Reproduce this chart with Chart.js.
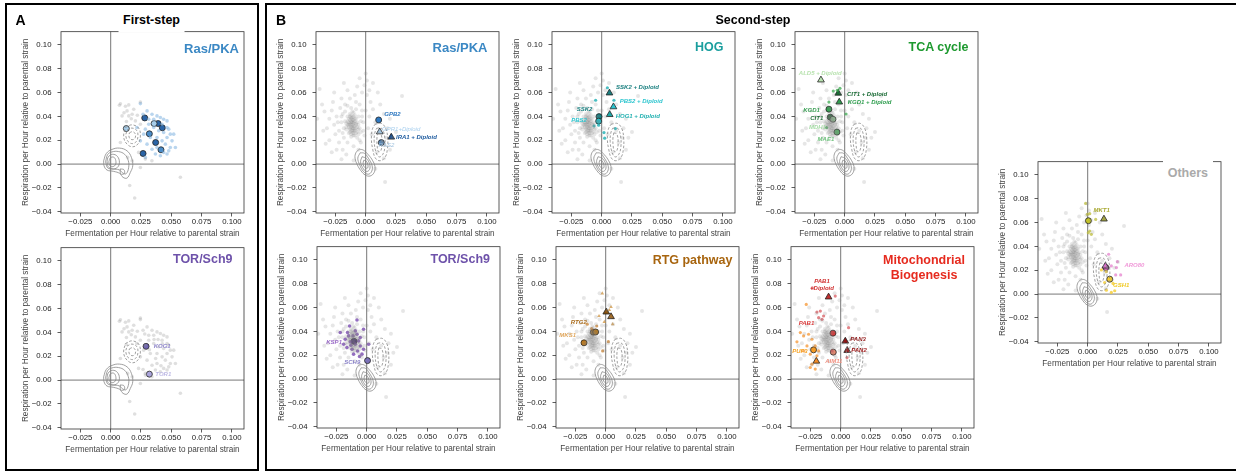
<!DOCTYPE html>
<html><head><meta charset="utf-8">
<script src="https://cdn.jsdelivr.net/npm/chart.js@4.4.1/dist/chart.umd.min.js"></script>
<style>
body{margin:0;background:#fff;width:1236px;height:473px;overflow:hidden;position:relative;font-family:"Liberation Sans",Arial,Helvetica,sans-serif}
canvas{position:absolute}
.t{position:absolute;white-space:nowrap;font-weight:bold;line-height:1}
.box{position:absolute;border:2.5px solid #000;box-sizing:border-box}
</style></head><body>
<div class="box" style="left:5px;top:3px;width:254px;height:468px"></div>
<div class="box" style="left:265px;top:3px;width:1000px;height:468px"></div>
<script>
// ---------- axes ----------
const X_MIN=-0.041, X_MAX=0.11, Y_MIN=-0.041, Y_MAX=0.111;
const xTicks=[-0.025,0,0.025,0.05,0.075,0.1];
const xTickLabels=['\u22120.025','0.000','0.025','0.050','0.075','0.100'];
const yTicks=[-0.04,-0.02,0,0.02,0.04,0.06,0.08,0.1];
const yTickLabels=['\u22120.04','\u22120.02','0.00','0.02','0.04','0.06','0.08','0.10'];
const xTitle='Fermentation per Hour relative to parental strain';
const yTitle='Respiration per Hour relative to parental strain';

// ---------- first-step data ----------
const firstStepOther=[[0.0072,0.0493],[0.0122,0.0485],[0.0149,0.0496],[0.0135,0.0446],[0.019,0.046],[0.0094,0.0404],[0.0149,0.0404],[0.0177,0.0418],[0.013,0.0357],[0.0204,0.0362],[0.0245,0.0334],[0.014,0.0056],[0.0177,0.0028],[0.0157,-0.018],[0.0198,-0.0284],[0.0575,-0.011],[0.0245,-0.0028],[0.034,0.0028],[0.008,0.0181],[0.023,0.0098],[0.0286,0.0042],[0.022,0.041],[0.017,0.038],[0.011,0.043],[0.0245,0.052],[0.008,0.0506]];
const rasOneSmall=[[0.0245,0.0507],[0.030,0.0446],[0.0341,0.0418],[0.0382,0.0404],[0.041,0.039],[0.0437,0.0376],[0.0465,0.0362],[0.0314,0.0376],[0.0355,0.0307],[0.0396,0.0279],[0.0437,0.0265],[0.0479,0.0293],[0.0492,0.0251],[0.0465,0.0223],[0.0424,0.0195],[0.0382,0.0139],[0.0341,0.0125],[0.030,0.0167],[0.0272,0.0251],[0.0245,0.0195],[0.0437,0.0098],[0.0465,0.0084],[0.041,0.007],[0.0369,0.0084],[0.0492,0.0139],[0.0506,0.0195],[0.0465,0.0307],[0.0424,0.0334],[0.0327,0.0223],[0.0382,0.0223],[0.0314,0.0334],[0.0267,0.0418],[0.0479,0.0111],[0.0451,0.0167],[0.052,0.0251],[0.0534,0.0139],[0.0286,0.0293],[0.0355,0.0376],[0.0286,0.0056],[0.0217,0.0307]];
const rasOneGenes=['','','','','','','','',''];
const rasOneFerm=[0.0281,0.0391,0.0358,0.0426,0.0129,0.0319,0.0371,0.0415,0.0267];
const rasOneResp=[0.0387,0.034,0.034,0.0304,0.0298,0.0254,0.0181,0.012,0.0089];
const torOneGenes=['KOG1','TOR1'];
const torOneFerm=[0.0292,0.0319];
const torOneResp=[0.0283,0.005];

// ---------- second-step data ----------
const stepTwoCloud=[[-0.012,0.035],[-0.010,0.032],[-0.013,0.030],[-0.009,0.036],[-0.011,0.028],[-0.014,0.038],[-0.008,0.030],[-0.010,0.040],[-0.012,0.025],[-0.015,0.033],[-0.007,0.027],[-0.011,0.037],[-0.013,0.042],[-0.009,0.024],[-0.006,0.033],[-0.016,0.029],[-0.010,0.034],[-0.012,0.031],[-0.008,0.038],[-0.014,0.035],[-0.009,0.028],[-0.011,0.044],[-0.007,0.022],[-0.013,0.027],[-0.005,0.030],[-0.017,0.036],[-0.010,0.026],[-0.012,0.039],[-0.006,0.025],[-0.015,0.040],[-0.008,0.034],[-0.011,0.030],[-0.013,0.033],[-0.009,0.041],[-0.004,0.027],[-0.016,0.031],[-0.010,0.037],[-0.007,0.031],[-0.012,0.023],[-0.014,0.026],
[-0.011,0.033],[-0.012,0.036],[-0.010,0.030],[-0.013,0.034],[-0.009,0.032],[-0.011,0.039],[-0.012,0.028],[-0.010,0.035],[-0.014,0.031],[-0.008,0.033],[-0.013,0.037],[-0.011,0.026],[-0.009,0.029],[-0.012,0.041],[-0.010,0.043],[-0.015,0.036],[-0.007,0.035],[-0.011,0.031],[-0.013,0.029],[-0.009,0.038],[-0.012,0.033],[-0.010,0.028],[-0.014,0.033],[-0.008,0.026],[-0.011,0.035],[-0.006,0.029],[-0.016,0.034],[-0.012,0.038],[-0.010,0.024],[-0.013,0.040],
[-0.020,0.035],[-0.022,0.028],[-0.019,0.042],[-0.024,0.040],[-0.018,0.022],[-0.021,0.047],[-0.026,0.033],[-0.017,0.050],[-0.015,0.018],[-0.025,0.025],[-0.003,0.040],[-0.002,0.035],[0.000,0.045],[-0.005,0.050],[-0.008,0.052],[0.002,0.030],[-0.001,0.024],[-0.004,0.018],[-0.010,0.015],[-0.013,0.055],[-0.028,0.045],[-0.030,0.038],[-0.022,0.018],[-0.019,0.012],[-0.006,0.012],[0.003,0.040],[0.004,0.052],[0.001,0.058],[-0.003,0.060],[-0.009,0.058],[-0.015,0.062],[-0.020,0.055],[-0.027,0.052],[-0.032,0.030],[-0.030,0.020],[-0.024,0.012],[-0.016,0.008],[0.006,0.046],[0.008,0.035],[0.005,0.025],[-0.001,0.066],[0.003,0.062],[-0.007,0.065],[-0.034,0.044],[-0.012,0.047],
[-0.018,0.030],[-0.020,0.040],[-0.017,0.044],[-0.004,0.036],[-0.003,0.045],[-0.006,0.040],[-0.019,0.026],[-0.023,0.035],[-0.008,0.046],[-0.015,0.049],[-0.005,0.020],[-0.002,0.028],
[-0.038,0.063],[-0.036,0.050],[-0.035,0.028],[-0.033,0.017],[-0.028,0.010],[-0.020,0.004],[-0.010,0.003],[0.000,0.076],[0.001,0.070],[-0.005,0.072],[0.010,0.060],[0.012,0.050],[0.015,0.042],[0.018,0.030],[0.022,0.022],[0.025,0.027],[0.030,0.057],[0.020,0.012],[0.015,0.005],[0.008,-0.004],[0.016,-0.015],[-0.026,0.060],[-0.018,0.068],[0.006,0.068],[0.014,0.018],[0.020,0.038],[0.009,0.010],[0.012,0.028],[0.017,0.022],[-0.040,0.038]];

const rasTwoGenes=['GPB2','GPR1+Diploid','IRA1 + Diploid','RAS2'];
const rasTwoFerm=[0.0107,0.0116,0.0211,0.0129];
const rasTwoResp=[0.037,0.027,0.0226,0.018];

const hogGenes=['SSK2','PBS2','SSK2 + Diploid','PBS2 + Diploid','HOG1 + Diploid'];
const hogFerm=[-0.0022,-0.0025,0.0064,0.0097,0.0066];
const hogResp=[0.0398,0.036,0.0596,0.048,0.0415];
const hogSmall=[[0.0047,0.064],[0.0101,0.0535],[-0.005,0.0535],[-0.0063,0.032],[0.0025,0.0217],[0.0019,0.0264],[0.0113,0.0298],[-0.0025,0.0326]];

const tcaGenes=['ALD5 + Diploid','CIT1 + Diploid','KGD1 + Diploid','KGD1','CIT1','MDH1','MAE1'];
const tcaFerm=[-0.0196,-0.0053,-0.0045,-0.013,-0.0119,-0.0097,-0.0064];
const tcaResp=[0.0705,0.0594,0.052,0.046,0.0393,0.0376,0.0268];
const tcaSmall=[[-0.013,0.052],[-0.0061,0.0618],[-0.0039,0.0635],[-0.0094,0.0612],[0.0011,0.042],[-0.0149,0.0306]];

const torTwoGenes=['KSP1','SCH9'];
const torTwoFerm=[-0.0105,0.0007];
const torTwoResp=[0.0317,0.0155];
const torTwoSmall=[[-0.008,0.0495],[-0.0141,0.0445],[-0.0218,0.039],[-0.0158,0.039],[-0.0113,0.0362],[-0.008,0.0376],[-0.0053,0.0348],[-0.0177,0.0334],[-0.0135,0.0312],[-0.0094,0.0292],[-0.0053,0.0278],[-0.0163,0.0264],[-0.0121,0.025],[-0.0075,0.0236],[-0.0039,0.0209],[-0.0108,0.0209],[-0.0059,0.0189],[0.0016,0.0292],[-0.0026,0.0418],[-0.0149,0.0362],[-0.019,0.0292],[-0.0067,0.032],[-0.0094,0.0404],[-0.013,0.0284],[-0.0026,0.025]];

const rtgGenes=['','','RTG2','','MKS1'];
const rtgFerm=[0.0005,0.0044,-0.0102,-0.0083,-0.0179];
const rtgResp=[0.0562,0.0523,0.0393,0.0395,0.0304];
const rtgSmallTri=[[-0.0028,0.0718],[-0.0055,0.0529],[-0.0011,0.0479],[0.0058,0.046],[0.0044,0.0604],[0.003,0.0579]];
const rtgSmall=[[-0.0116,0.0423],[-0.0074,0.0445],[-0.0152,0.046],[0.0022,0.0314],[-0.0025,0.0236]];

const mitoGenes=['PUF3','','AIM11','PAB1','PAB1\n+Diploid','PAN3','PAN2'];
const mitoFerm=[-0.0224,-0.0201,-0.0061,-0.0064,-0.01,0.0038,0.0054];
const mitoResp=[0.0245,0.015,0.0226,0.0385,0.0688,0.0318,0.024];
const mitoRedSmall=[[-0.0196,0.0562],[-0.0168,0.057],[-0.0182,0.0515],[-0.0154,0.0501],[-0.0141,0.0529],[-0.0234,0.0765],[0.0065,0.0431],[-0.0072,0.0236],[0.0052,0.018],[-0.0045,0.0696]];
const mitoOrangeSmall=[[-0.0284,0.0626],[-0.0333,0.039],[-0.0306,0.0362],[-0.0361,0.0312],[-0.0265,0.0376],[-0.0237,0.0334],[-0.021,0.0278],[-0.0278,0.0278],[-0.0251,0.0209],[-0.0196,0.0195],[-0.0237,0.0125],[-0.0251,0.0097],[-0.021,0.0084],[-0.0182,0.0236],[-0.0306,0.0236]];

const otherGenes=['','MKT1','','ARO80','GSH1'];
const otherFerm=[0.0006,0.0134,0.015,0.0146,0.0182];
const otherResp=[0.0615,0.0629,0.0222,0.0235,0.0125];
const otherOliveSmall=[[-0.0017,0.076],[-0.0003,0.0668],[0.0017,0.0674],[0.0017,0.0529],[0.003,0.0501],[0.0066,0.0626],[0.0005,0.0515]];
const otherYellowSmall=[[0.0113,0.0203],[0.0154,0.0189],[0.014,0.0097],[0.0154,0.0033],[0.0195,0.0014],[0.0223,0.0028],[0.0209,0.0089]];
const otherPinkSmall=[[0.0173,0.0334],[0.0245,0.0272],[0.0237,0.0222],[0.0272,0.0161],[0.0231,0.0161],[0.0195,0.0236]];

// ---------- density contours ----------
const firstSolid=[
 [[-0.0058,0.0028],[-0.0036,0.0089],[0.0011,0.0123],[0.0074,0.0134],[0.0135,0.0111],[0.0171,0.0056],[0.0182,-0.0014],[0.0162,-0.0070],[0.0135,-0.0117],[0.0102,-0.0111],[0.0074,-0.0078],[0.0025,-0.0061],[-0.0030,-0.0050],[-0.0055,-0.0014]],
 [[-0.0042,0.0020],[-0.0025,0.0080],[0.0010,0.0102],[0.0065,0.0105],[0.0115,0.0082],[0.0145,0.0030],[0.0148,-0.0030],[0.0128,-0.0080],[0.0100,-0.0075],[0.0070,-0.0048],[0.0020,-0.0042],[-0.0025,-0.0032]],
 [[-0.0030,0.0020],[-0.0020,0.0060],[0.0015,0.0082],[0.0055,0.0065],[0.0072,0.0015],[0.0055,-0.0028],[0.0012,-0.0040],[-0.0020,-0.0022]],
 [[-0.0015,0.0020],[-0.0003,0.0052],[0.0025,0.0058],[0.0042,0.0030],[0.0038,-0.0008],[0.0010,-0.0022],[-0.0010,-0.0008]],
 [[0.0080,-0.0040],[0.0110,-0.0048],[0.0112,-0.0080],[0.0082,-0.0082]]];
const firstDashed=[
 [[0.0121,0.0306],[0.0176,0.0329],[0.0231,0.0301],[0.0245,0.0237],[0.0228,0.0173],[0.0184,0.0145],[0.0135,0.0167],[0.0107,0.0228]],
 [[0.0135,0.0285],[0.0175,0.0302],[0.0215,0.0282],[0.0225,0.0235],[0.0212,0.0190],[0.0180,0.0172],[0.0145,0.0188],[0.0125,0.0235]],
 [[0.0155,0.0262],[0.0180,0.0272],[0.0202,0.0255],[0.0203,0.0222],[0.0185,0.0205],[0.0160,0.0212],[0.0150,0.0238]]];
const secondSolid=[
 [[-0.0052,0.0125],[-0.0080,0.0097],[-0.0088,0.0050],[-0.0069,-0.0006],[-0.0039,-0.0056],[-0.0003,-0.0092],[0.0036,-0.0100],[0.0069,-0.0072],[0.0077,-0.0022],[0.0058,0.0028],[0.0022,0.0078],[-0.0019,0.0117]],
 [[-0.0045,0.0095],[-0.0065,0.0050],[-0.0050,-0.0005],[-0.0020,-0.0060],[0.0020,-0.0085],[0.0050,-0.0060],[0.0052,-0.0010],[0.0022,0.0050],[-0.0010,0.0090]],
 [[-0.0030,0.0062],[-0.0042,0.0020],[-0.0025,-0.0030],[0.0005,-0.0062],[0.0032,-0.0045],[0.0032,0.0002],[0.0006,0.0047]],
 [[-0.0016,0.0032],[-0.0022,0.0000],[-0.0006,-0.0030],[0.0016,-0.0032],[0.0017,0.0000],[0.0001,0.0027]]];
const secondDashed=[
 [[0.0077,0.0334],[0.0132,0.0340],[0.0168,0.0292],[0.0182,0.0209],[0.0179,0.0125],[0.0160,0.0056],[0.0118,0.0028],[0.0080,0.0050],[0.0058,0.0125],[0.0047,0.0209],[0.0055,0.0292]],
 [[0.0090,0.0300],[0.0130,0.0302],[0.0155,0.0240],[0.0158,0.0140],[0.0140,0.0080],[0.0110,0.0060],[0.0085,0.0100],[0.0070,0.0190],[0.0075,0.0260]],
 [[0.0100,0.0262],[0.0125,0.0252],[0.0136,0.0180],[0.0125,0.0112],[0.0105,0.0105],[0.0094,0.0160],[0.0093,0.0220]]];

// ---------- helpers ----------
const FF='"Liberation Sans", Arial, Helvetica, sans-serif';
const P=a=>a.map(p=>({x:p[0],y:p[1]}));
const loop=a=>{const p=P(a);p.push({x:a[0][0],y:a[0][1]});return p;};
const XY=(xs,ys)=>xs.map((x,i)=>({x,y:ys[i]}));

const decor={id:'decor',
 beforeDatasetsDraw(ch){const {ctx,chartArea:a,scales:{x,y}}=ch;ctx.save();ctx.strokeStyle='#777';ctx.lineWidth=1;
  const x0=x.getPixelForValue(0),y0=y.getPixelForValue(0);ctx.beginPath();ctx.moveTo(x0,a.top);ctx.lineTo(x0,a.bottom);ctx.moveTo(a.left,y0);ctx.lineTo(a.right,y0);ctx.stroke();ctx.restore();},
 afterDatasetsDraw(ch,args,o){const {ctx,chartArea:a}=ch;ctx.save();ctx.strokeStyle='#333';ctx.lineWidth=0.8;ctx.strokeRect(a.left,a.top,a.right-a.left,a.bottom-a.top);
  const n=ch.data.datasets.length-1;const meta=ch.getDatasetMeta(n);const ds=ch.data.datasets[n];
  (ds.genes||[]).forEach((g,i)=>{const s=ds.st[i];if(!g||!s[2])return;const el=meta.data[i];
   ctx.font=(s[6]?'italic ':'italic bold ')+'6px '+FF;ctx.fillStyle=s[2];ctx.textAlign=s[5]||'left';ctx.textBaseline='middle';
   g.split('\n').forEach((line,k)=>ctx.fillText(line,el.x+s[3],el.y+s[4]+k*6.6));});
  ctx.restore();}};
Chart.register(decor);

const G2={color:'rgba(130,130,130,0.2)',r:2.0};
const G1={color:'rgba(150,150,150,0.3)',r:1.8};

function build(p){
 const c=document.createElement('canvas');c.width=243;c.height=222;
 c.style.left=(Math.round(p.L)-50)+'px';c.style.top=(Math.round(p.T)-10)+'px';document.body.appendChild(c);
 const ds=[];
 p.clouds.forEach(cl=>ds.push({data:P(cl.pts),pointRadius:cl.r,backgroundColor:cl.color,borderWidth:0,pointStyle:'circle'}));
 const cs=p.first?[firstSolid,firstDashed]:[secondSolid,secondDashed];
 cs[0].forEach(k=>ds.push({data:loop(k),showLine:true,pointRadius:0,borderColor:'#888',borderWidth:0.8,tension:0.4,fill:false}));
 cs[1].forEach(k=>ds.push({data:loop(k),showLine:true,pointRadius:0,borderColor:'#888',borderWidth:0.8,borderDash:[2.6,1.8],tension:0.4,fill:false}));
 (p.small||[]).forEach(s=>ds.push({data:P(s.pts),pointRadius:s.r||1.6,backgroundColor:s.color,borderWidth:0,pointStyle:s.shape||'circle'}));
 const b=p.big;
 ds.push({data:XY(b.x,b.y),genes:b.genes,st:b.st,pointStyle:b.st.map(s=>s[0]==='t'?'triangle':'circle'),
   pointRadius:b.st.map(s=>s[0]==='t'?3.9:3),backgroundColor:b.st.map(s=>s[1]),borderColor:'#222',borderWidth:0.8});
 new Chart(c,{type:'scatter',data:{datasets:ds},options:{responsive:false,animation:false,events:[],
  layout:{padding:{left:0,top:10,right:10,bottom:0}},
  plugins:{legend:{display:false},tooltip:{enabled:false}},
  scales:{
   x:{type:'linear',min:X_MIN,max:X_MAX,afterFit:s=>{s.height=30;},afterBuildTicks:s=>{s.ticks=xTicks.map(v=>({value:v}));},
      ticks:{callback:(v,i)=>xTickLabels[i],font:{family:FF,size:7.8},color:'#222',padding:1,maxRotation:0,autoSkip:false},
      grid:{drawOnChartArea:false,drawTicks:true,tickLength:3.5,color:'#333',lineWidth:0.8},border:{display:false},
      title:{display:true,text:xTitle,font:{family:FF,size:8.2},color:'#444',padding:{top:0,bottom:4.6}}},
   y:{type:'linear',min:Y_MIN,max:Y_MAX,afterFit:s=>{s.width=50;},afterBuildTicks:s=>{s.ticks=yTicks.map(v=>({value:v}));},
      ticks:{callback:(v,i)=>yTickLabels[i],font:{family:FF,size:7.8},color:'#222',padding:6,autoSkip:false},
      grid:{drawOnChartArea:false,drawTicks:true,tickLength:3.5,color:'#333',lineWidth:0.8},border:{display:false},
      title:{display:true,text:yTitle,font:{family:FF,size:8.2},color:'#444',padding:{top:10,bottom:0}}}}}});
}

const rD='#2a64a6',rM='#4a8cc8',rL='#a6cdea';
build({L:61,T:31,first:true,clouds:[{pts:firstStepOther,...G1}],small:[{pts:rasOneSmall,color:'rgba(128,178,224,0.55)',r:1.8}],
 big:{genes:rasOneGenes,x:rasOneFerm,y:rasOneResp,st:[['c',rD],['c',rD],['c',rL],['c',rD],['c',rL],['c',rM],['c',rD],['c',rM],['c',rD]]}});
build({L:61,T:247,first:true,clouds:[{pts:firstStepOther,...G1},{pts:rasOneSmall,...G1},{pts:rasOneFerm.map((x,i)=>[x,rasOneResp[i]]),...G1}],
 big:{genes:torOneGenes,x:torOneFerm,y:torOneResp,st:[['c','#6e63b0','#8f86cc',7.6,0,'left'],['c','#aaa4dc','#bdb8e4',6,0,'left']]}});
build({L:316,T:31,clouds:[{pts:stepTwoCloud,...G2}],
 big:{genes:rasTwoGenes,x:rasTwoFerm,y:rasTwoResp,st:[['c','#2e78c0','#2e78c0',5.7,-5.3,'left'],['t','#a8cfee','#a8cfee',2.3,-2.3,'left',1],['t','#1c4f8f','#1c5a9e',4.7,0,'left'],['c','#5a88b5','#9fc0dd',-2.7,2.3,'left',1]]}});
build({L:552,T:31,clouds:[{pts:stepTwoCloud,...G2}],small:[{pts:hogSmall,color:'rgba(30,175,180,0.8)',r:1.6}],
 big:{genes:hogGenes,x:hogFerm,y:hogResp,st:[['c','#177f82','#1b8080',-6.6,-7,'right'],['c','#27bcc5','#2cc5cf',-11.7,-1.3,'right'],['t','#1b7f80','#1b8080',6.6,-5.3,'left'],['t','#2cc5d0','#2cc5cf',6.3,-5.4,'left'],['t','#1da6a6','#20b0b0',6,1.3,'left']]}});
build({L:795,T:31,clouds:[{pts:stepTwoCloud,...G2}],small:[{pts:tcaSmall,color:'rgba(60,170,80,0.75)',r:1.6}],
 big:{genes:tcaGenes,x:tcaFerm,y:tcaResp,st:[['t','#b9e3b0','#b9e3b0',-0.7,-6.3,'center'],['t','#1a6b35','#1a6b35',8.7,0.7,'left'],['t','#2d9d4d','#2d9d4d',8.4,0,'left'],['c','#3aa055','#3aa055',-9,1.4,'right'],['c','#1f6e36','#1f6e36',-7,1,'right'],['c','#98d49a','#a8dca8',-7,8.4,'right'],['c','#58b468','#6cc07a',-2.7,7.4,'right']]}});
build({L:317,T:246,clouds:[{pts:stepTwoCloud,...G2}],small:[{pts:torTwoSmall,color:'rgba(112,62,172,0.75)',r:1.8}],
 big:{genes:torTwoGenes,x:torTwoFerm,y:torTwoResp,st:[['c','#3d1f72','#9a6ac8',-12,0.7,'right'],['c','#7b72b8','#8a82c8',-7.3,1.3,'right']]}});
build({L:556,T:246,clouds:[{pts:stepTwoCloud,...G2}],small:[{pts:rtgSmallTri,color:'rgba(205,145,60,0.75)',r:2.1,shape:'triangle'},{pts:rtgSmall,color:'rgba(200,130,50,0.75)',r:1.6}],
 big:{genes:rtgGenes,x:rtgFerm,y:rtgResp,st:[['t','#8a5410'],['t','#a8691a'],['c','#b07016','#a86a1a',-6.6,-10,'right'],['c','#b87818'],['c','#c27a18','#e0a860',-8,-7.7,'right']]}});
build({L:791,T:246,clouds:[{pts:stepTwoCloud,...G2}],small:[{pts:mitoRedSmall,color:'rgba(215,80,85,0.7)',r:1.6},{pts:mitoOrangeSmall,color:'rgba(245,150,50,0.75)',r:1.6}],
 big:{genes:mitoGenes,x:mitoFerm,y:mitoResp,st:[['c','#f59a22','#f5a020',-6,1.7,'right'],['t','#f28a25'],['c','#e8896f','#f09080',0.5,9.7,'center'],['c','#d43d3d','#d83a3a',-18.7,-10.3,'right'],['t','#c23030','#d03030',-6.6,-15.3,'center'],['t','#8e1616','#901818',5,-2,'left'],['t','#a01e1e','#a02020',4,0,'left']]}});
build({L:1038,T:161,clouds:[{pts:stepTwoCloud,...G2}],small:[{pts:otherOliveSmall,color:'rgba(190,190,60,0.75)',r:1.6},{pts:otherYellowSmall,color:'rgba(245,205,50,0.8)',r:1.6},{pts:otherPinkSmall,color:'rgba(230,130,205,0.75)',r:1.6}],
 big:{genes:otherGenes,x:otherFerm,y:otherResp,st:[['c','#c2c22a'],['t','#a5a545','#a8a830',-2.3,-9,'center'],['c','#d060b8'],['t','#d86ec8','#f098d8',19,-1,'left'],['c','#f7d030','#f0c820',3.3,5.7,'left']]}});

// ---------- text ----------
function txt(s,x,y,al,size,color,bg){const d=document.createElement('div');d.className='t';d.textContent=s;
 d.style.fontSize=size+'px';d.style.color=color;d.style.top=y+'px';
 let tx='-50%';if(al==='right'){d.style.right=(1236-x)+'px';tx='0';}else if(al==='center'){d.style.left=x+'px';}else{d.style.left=x+'px';tx='0';}
 d.style.transform='translate('+tx+',-50%)';if(bg){d.style.background='#fff';d.style.padding=bg;}document.body.appendChild(d);}
txt('A',15.5,20,'left',14,'#000');
txt('B',276,20,'left',14,'#000');
txt('First-step',151.5,20,'center',12.5,'#000','6px 5px 6px 5px');
txt('Second-step',753,20,'center',12.5,'#000');
txt('Ras/PKA',239,47.5,'right',13,'#3b88c4');
txt('TOR/Sch9',232.5,259,'right',12.5,'#6e52aa');
txt('Ras/PKA',487.5,47,'right',13,'#3b88c4');
txt('HOG',723.5,47,'right',12.5,'#1a9e9e');
txt('TCA cycle',968.5,47,'right',12.5,'#1e9a30');
txt('TOR/Sch9',490,259,'right',12.5,'#6e52aa');
txt('RTG pathway',732.5,260,'right',12.5,'#a8650f');
txt('Mitochondrial',924,260,'center',12.5,'#e62a1e');
txt('Biogenesis',924,275,'center',12.5,'#e62a1e');
txt('Others',1213,173,'right',12.5,'#aaaaaa','6px 5px 6px 5px');
</script>
</body></html>
